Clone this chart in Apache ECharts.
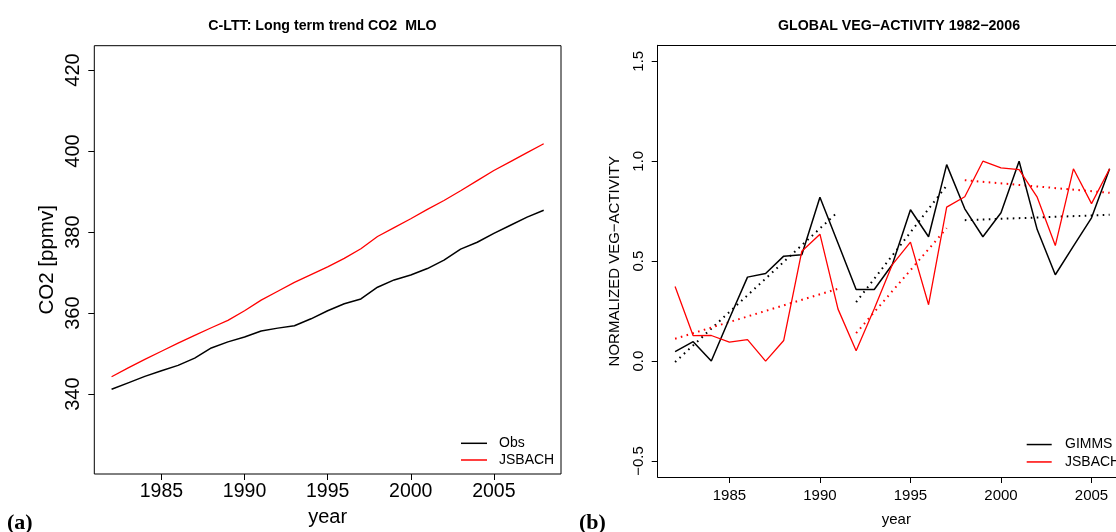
<!DOCTYPE html>
<html>
<head>
<meta charset="utf-8">
<script src="https://cdn.jsdelivr.net/npm/echarts@6/dist/echarts.min.js"></script>
<style>
html,body{margin:0;padding:0;background:#fff;}
#c{width:1116px;height:532px;}
</style>
</head>
<body>
<div id="c"></div>
<script>
// ---------- Panel (a): CO2 long-term trend ----------
const co2Years = [1982,1983,1984,1985,1986,1987,1988,1989,1990,1991,1992,1993,1994,1995,1996,1997,1998,1999,2000,2001,2002,2003,2004,2005,2006,2007,2008];
const co2Obs = [341.2,342.8,344.4,345.8,347.1,348.9,351.4,352.9,354.1,355.6,356.3,356.9,358.6,360.6,362.3,363.5,366.4,368.2,369.4,371.0,373.1,375.8,377.5,379.7,381.7,383.7,385.4];
const co2Jsbach = [344.3,346.5,348.6,350.6,352.6,354.5,356.4,358.2,360.6,363.2,365.4,367.6,369.5,371.4,373.5,375.9,378.9,381.1,383.3,385.6,387.8,390.2,392.7,395.2,397.4,399.6,401.8];
const co2YTicks = [340,360,380,400,420];
const co2XTicks = [1985,1990,1995,2000,2005];

// ---------- Panel (b): global vegetation activity ----------
const vegYears = [1982,1983,1984,1985,1986,1987,1988,1989,1990,1991,1992,1993,1994,1995,1996,1997,1998,1999,2000,2001,2002,2003,2004,2005,2006];
const vegGimms = [0.047,0.097,0.0,0.213,0.42,0.438,0.525,0.532,0.82,0.59,0.358,0.358,0.483,0.757,0.622,0.983,0.762,0.622,0.742,1.0,0.658,0.432,0.575,0.717,0.962];
const vegJsbach = [0.373,0.127,0.128,0.095,0.107,0.0,0.103,0.55,0.635,0.26,0.052,0.262,0.483,0.595,0.282,0.77,0.822,1.0,0.967,0.958,0.82,0.578,0.962,0.788,0.962];
// trend segments: [startYear, endYear]
const trendYears = [[1982,1991],[1992,1997],[1998,2006]];
const gimmsTrend = [[-0.005,0.747],[0.295,0.878],[0.705,0.732]];
const jsbachTrend = [[0.112,0.362],[0.14,0.665],[0.905,0.842]];
const vegYTicks = [-0.5,0,0.5,1,1.5];
const vegXTicks = [1985,1990,1995,2000,2005];

const pair = (xs, ys) => xs.map((x, i) => [x, ys[i]]);
const fmtMinus = v => String(v).replace('-', '\u2212');

const series = [
  {name:'Obs', type:'line', xAxisIndex:0, yAxisIndex:0, data:pair(co2Years,co2Obs), symbol:'none', lineStyle:{color:'#000',width:1.5}, itemStyle:{color:'#000'}, z:3},
  {name:'JSBACH', type:'line', xAxisIndex:0, yAxisIndex:0, data:pair(co2Years,co2Jsbach), symbol:'none', lineStyle:{color:'#ff0000',width:1.3}, itemStyle:{color:'#ff0000'}, z:3},
  {name:'GIMMS', type:'line', xAxisIndex:1, yAxisIndex:1, data:pair(vegYears,vegGimms), symbol:'none', lineStyle:{color:'#000',width:1.5}, itemStyle:{color:'#000'}, z:3},
  {name:'JSBACH', type:'line', xAxisIndex:1, yAxisIndex:1, data:pair(vegYears,vegJsbach), symbol:'none', lineStyle:{color:'#ff0000',width:1.3}, itemStyle:{color:'#ff0000'}, z:3}
];
trendYears.forEach((yrs, k) => {
  series.push({name:'GIMMS trend', type:'line', xAxisIndex:1, yAxisIndex:1, data:pair(yrs,gimmsTrend[k]), symbol:'none', silent:true,
    lineStyle:{color:'#000',width:2,type:[1.6,4.4]}, z:2});
  series.push({name:'JSBACH trend', type:'line', xAxisIndex:1, yAxisIndex:1, data:pair(yrs,jsbachTrend[k]), symbol:'none', silent:true,
    lineStyle:{color:'#ff0000',width:2,type:[1.6,4.4]}, z:2});
});

const font = 'Liberation Sans, Arial, Helvetica, sans-serif';
const blackLine = {show:true, onZero:false, lineStyle:{color:'#000', width:1}};

const option = {
  animation:false,
  backgroundColor:'#fff',
  textStyle:{fontFamily:font, color:'#000'},
  title:[
    {text:'C-LTT: Long term trend CO2  MLO', left:317.5, top:14, textAlign:'center', textStyle:{fontFamily:font,fontSize:14.2,fontWeight:'bold',color:'#000'}},
    {text:'GLOBAL VEG\u2212ACTIVITY 1982\u22122006', left:894, top:14, textAlign:'center', textStyle:{fontFamily:font,fontSize:14.2,fontWeight:'bold',color:'#000'}},
    {text:'(a)', left:2, top:507, textStyle:{fontFamily:'Liberation Serif, Times New Roman, serif',fontSize:22,fontWeight:'bold',color:'#000'}},
    {text:'(b)', left:574, top:507, textStyle:{fontFamily:'Liberation Serif, Times New Roman, serif',fontSize:22,fontWeight:'bold',color:'#000'}}
  ],
  legend:[
    {data:['Obs','JSBACH'], orient:'vertical', left:456, top:430.3, itemWidth:26, itemHeight:1.5, icon:'rect', itemGap:0.7,
     selectedMode:false, textStyle:{fontFamily:font,fontSize:14,color:'#000',lineHeight:16,padding:[0,0,0,7]}},
    {data:['GIMMS','JSBACH'], orient:'vertical', left:1021.7, top:431.3, itemWidth:25, itemHeight:1.5, icon:'rect', itemGap:0.9,
     selectedMode:false, textStyle:{fontFamily:font,fontSize:14,color:'#000',lineHeight:16.5,padding:[0,0,0,8.3]}}
  ],
  grid:[
    {left:94.3, top:45.7, width:466.7, height:430.3, show:true, borderColor:'#000', borderWidth:1, backgroundColor:'transparent', containLabel:false},
    {left:657.7, top:45.3, width:458.3, height:432.4, show:false, containLabel:false}
  ],
  xAxis:[
    {type:'value', gridIndex:0, min:1980.96, max:2009.04, name:'year', nameLocation:'middle', nameGap:33,
     nameTextStyle:{fontFamily:font,fontSize:20,color:'#000'},
     axisLine:{show:false, onZero:false}, splitLine:{show:false},
     axisTick:{show:true, inside:false, length:6, lineStyle:{color:'#000'}, customValues:co2XTicks},
     axisLabel:{fontFamily:font, fontSize:19.5, color:'#000', margin:8, customValues:co2XTicks, formatter:v=>String(v)}},
    {type:'value', gridIndex:1, min:1981.04, max:2006.352, name:'year', nameLocation:'middle', nameGap:35,
     nameTextStyle:{fontFamily:font,fontSize:15,color:'#000', padding:[0,0,0,19]},
     axisLine:blackLine, splitLine:{show:false},
     axisTick:{show:true, inside:false, length:6, lineStyle:{color:'#000'}, customValues:vegXTicks},
     axisLabel:{fontFamily:font, fontSize:15, color:'#000', margin:11, customValues:vegXTicks, formatter:v=>String(v)}},
    {type:'value', gridIndex:1, position:'top', min:1981.04, max:2006.352,
     axisLine:blackLine, splitLine:{show:false}, axisTick:{show:false}, axisLabel:{show:false}}
  ],
  yAxis:[
    {type:'value', gridIndex:0, min:320.3, max:426.0, name:'CO2 [ppmv]', nameLocation:'middle', nameRotate:90, nameGap:36,
     nameTextStyle:{fontFamily:font,fontSize:20.5,color:'#000'},
     axisLine:{show:false, onZero:false}, splitLine:{show:false},
     axisTick:{show:true, inside:false, length:6, lineStyle:{color:'#000'}, customValues:co2YTicks},
     axisLabel:{fontFamily:font, fontSize:20, color:'#000', rotate:90, margin:11, customValues:co2YTicks, formatter:v=>String(v)}},
    {type:'value', gridIndex:1, min:-0.58, max:1.58, name:'NORMALIZED VEG\u2212ACTIVITY', nameLocation:'middle', nameRotate:90, nameGap:35,
     nameTextStyle:{fontFamily:font,fontSize:15,color:'#000'},
     axisLine:blackLine, splitLine:{show:false},
     axisTick:{show:true, inside:false, length:6, lineStyle:{color:'#000'}, customValues:vegYTicks},
     axisLabel:{fontFamily:font, fontSize:15, color:'#000', rotate:90, margin:11, customValues:vegYTicks, formatter:v=>fmtMinus(Number(v).toFixed(1))}}
  ],
  series:series
};

const chart = echarts.init(document.getElementById('c'), null, {renderer:'canvas'});
chart.setOption(option);
</script>
</body>
</html>
